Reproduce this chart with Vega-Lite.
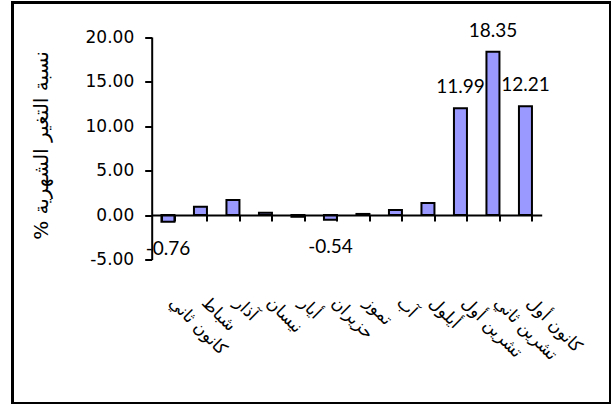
{
  "$schema": "https://vega.github.io/schema/vega-lite/v6.json",
  "autosize": "none",
  "padding": {"left": 12.5, "top": 2.5, "right": 0, "bottom": 0},
  "width": 598,
  "height": 401,
  "background": "white",
  "config": {
    "view": {"stroke": "black", "strokeWidth": 3, "fill": "white"},
    "font": "DejaVu Sans",
    "locale": {
      "number": {"decimal": ".", "thousands": ",", "grouping": [3], "currency": ["", ""], "minus": "-"}
    }
  },
  "data": {
    "values": [
      {"month": "كانون ثاني", "v": -0.76},
      {"month": "شباط", "v": 0.93},
      {"month": "آذار", "v": 1.69},
      {"month": "نيسان", "v": 0.25},
      {"month": "أيار", "v": -0.2},
      {"month": "حزيران", "v": -0.54},
      {"month": "تموز", "v": 0.12},
      {"month": "آب", "v": 0.56},
      {"month": "أيلول", "v": 1.35},
      {"month": "تشرين أول", "v": 11.99},
      {"month": "تشرين ثاني", "v": 18.35},
      {"month": "كانون أول", "v": 12.21}
    ]
  },
  "encoding": {
    "x": {
      "field": "month",
      "type": "nominal",
      "sort": null,
      "scale": {"range": [139.2, 529.2], "paddingInner": 0.6, "paddingOuter": 0.3},
      "axis": {
        "title": null,
        "orient": "bottom",
        "offset": -188.5,
        "zindex": 1,
        "domainColor": "black",
        "domainWidth": 2,
        "tickColor": "black",
        "tickWidth": 2,
        "tickSize": 6,
        "tickBand": "extent",
        "labelAngle": 45,
        "labelAlign": "left",
        "labelBaseline": "top",
        "labelPadding": 73,
        "labelOffset": 9,
        "labelFont": "DejaVu Sans",
        "labelFontSize": 17,
        "labelColor": "black",
        "labelOverlap": false,
        "labelLimit": 0
      }
    },
    "y": {
      "field": "v",
      "type": "quantitative",
      "scale": {"domain": [-5, 20], "range": [257, 34.5], "nice": false, "zero": false},
      "axis": {
        "title": "% نسبة التغير الشهرية",
        "orient": "left",
        "offset": -139.2,
        "zindex": 1,
        "values": [-5, 0, 5, 10, 15, 20],
        "format": ".2f",
        "grid": false,
        "domainColor": "black",
        "domainWidth": 2,
        "tickColor": "black",
        "tickWidth": 2,
        "tickSize": 7,
        "labelPadding": 11,
        "labelFont": "DejaVu Sans",
        "labelFontSize": 17,
        "labelColor": "black",
        "titleFont": "DejaVu Sans",
        "titleFontSize": 20,
        "titleFontWeight": "normal",
        "titleColor": "black",
        "titleX": -110,
        "titleY": 142.5,
        "titleAngle": -90,
        "titleAlign": "center",
        "titleBaseline": "middle",
        "titleLimit": 0
      }
    }
  },
  "layer": [
    {
      "mark": {"type": "bar", "fill": "#9999FF", "stroke": "black", "strokeWidth": 2}
    },
    {
      "transform": [{"filter": "datum.v > 10"}],
      "mark": {"type": "text", "font": "Lato", "fontSize": 19, "align": "center", "baseline": "middle", "dy": -21, "color": "black"},
      "encoding": {"text": {"field": "v", "type": "quantitative", "format": ".2f"}}
    },
    {
      "transform": [{"filter": "datum.v < -0.5"}],
      "mark": {"type": "text", "font": "Lato", "fontSize": 19, "align": "center", "baseline": "middle", "dy": 27, "color": "black"},
      "encoding": {"text": {"field": "v", "type": "quantitative", "format": ".2f"}}
    }
  ]
}
